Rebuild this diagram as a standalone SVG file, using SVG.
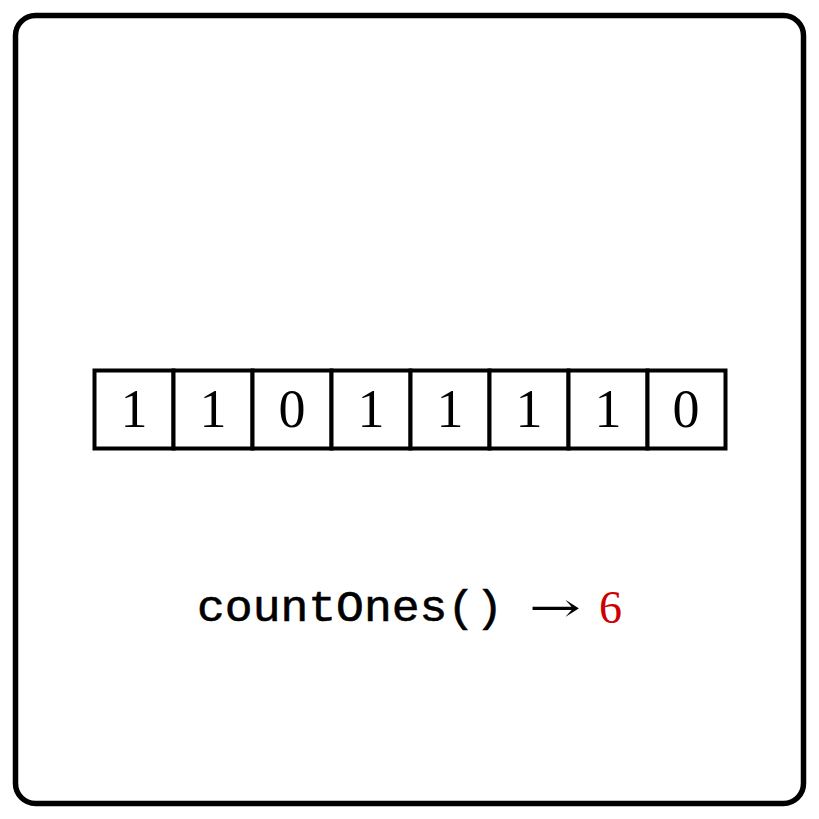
<svg xmlns="http://www.w3.org/2000/svg" width="819" height="819" viewBox="0 0 819 819">
<style>
.cell{fill:#fff;stroke:#000;stroke-width:4}
.d{font-family:"Liberation Serif","DejaVu Serif",serif;font-size:54px;text-anchor:middle;fill:#000}
.mono{font-family:"Liberation Mono","DejaVu Sans Mono",monospace;font-size:44px;fill:#000;stroke:#000;stroke-width:0.6}
.sym{font-family:"DejaVu Serif","Liberation Serif",serif;font-size:40px;fill:#000}
</style>
<rect x="0" y="0" width="819" height="819" fill="#fff"/>
<rect id="frame" x="15.5" y="15.5" width="788" height="788" rx="20" fill="#fff" stroke="#000" stroke-width="5.5"/>
<g id="bits">
<g id="b0"><rect class="cell" x="94.5" y="370.5" width="79" height="78"/><text class="d" x="134" y="427">1</text></g>
<g id="b1"><rect class="cell" x="173.5" y="370.5" width="79" height="78"/><text class="d" x="213" y="427">1</text></g>
<g id="b2"><rect class="cell" x="252.5" y="370.5" width="79" height="78"/><text class="d" x="292" y="427">0</text></g>
<g id="b3"><rect class="cell" x="331.5" y="370.5" width="79" height="78"/><text class="d" x="371" y="427">1</text></g>
<g id="b4"><rect class="cell" x="410.5" y="370.5" width="79" height="78"/><text class="d" x="450" y="427">1</text></g>
<g id="b5"><rect class="cell" x="489.5" y="370.5" width="79" height="78"/><text class="d" x="529" y="427">1</text></g>
<g id="b6"><rect class="cell" x="568.5" y="370.5" width="79" height="78"/><text class="d" x="608" y="427">1</text></g>
<g id="b7"><rect class="cell" x="647.5" y="370.5" width="78" height="78"/><text class="d" x="686" y="427">0</text></g>
</g>
<g id="label">
<text class="mono" x="197" y="621" textLength="306" lengthAdjust="spacingAndGlyphs">countOnes()</text>
<text class="sym" x="529" y="621" textLength="52" lengthAdjust="spacingAndGlyphs">→</text>
<text x="599" y="623" style="font-family:'Liberation Serif',serif;font-size:46px;fill:#cc0000">6</text>
</g>
</svg>
